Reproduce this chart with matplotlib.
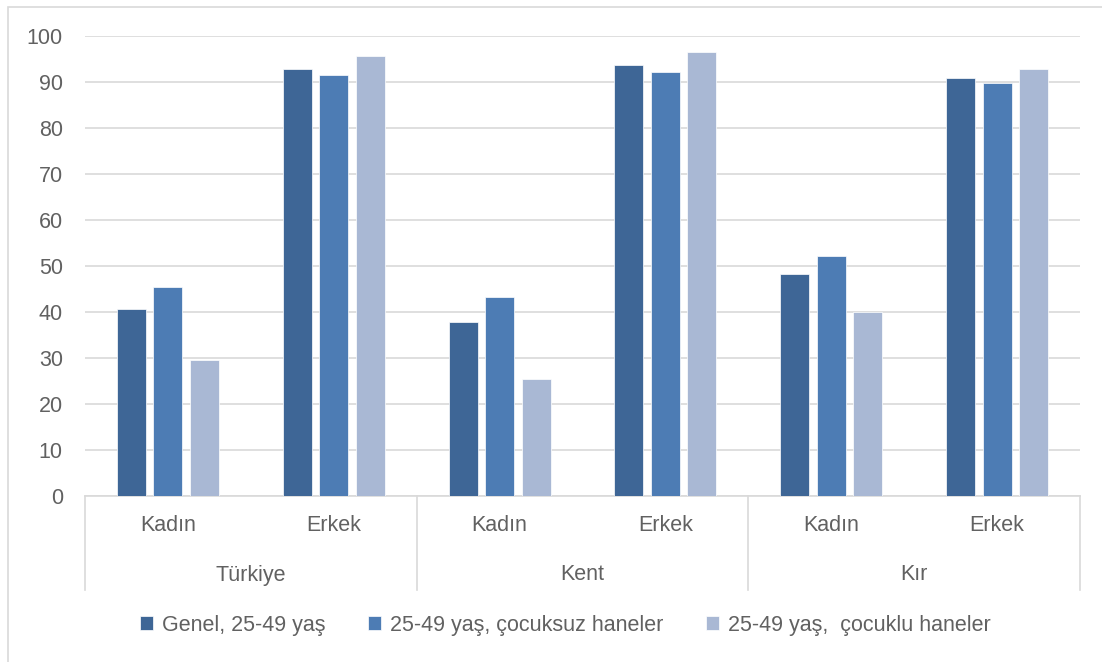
import matplotlib
matplotlib.use('Agg')
import matplotlib.pyplot as plt
import matplotlib.transforms as mtransforms
from matplotlib.patches import Rectangle
import numpy as np

plt.rcParams['font.family'] = ['Liberation Sans', 'DejaVu Sans']

# veriler
gruplar = ['Türkiye', 'Kent', 'Kır']
cinsiyet = ['Kadın', 'Erkek']
seriler = ['Genel, 25-49 yaş', '25-49 yaş, çocuksuz haneler', '25-49 yaş,  çocuklu haneler']
genel = [40.5, 92.9, 37.8, 93.6, 48.2, 90.8]
cocuksuz = [45.4, 91.5, 43.1, 92.1, 52.1, 89.7]
cocuklu = [29.5, 95.6, 25.3, 96.6, 40.0, 92.9]
renkler = ['#3e6696', '#4d7cb4', '#a9b8d4']

W, H = 1102, 662
fs = 15.5
yazi_rengi = '#616161'
fig = plt.figure(figsize=(W / 100, H / 100), dpi=100)
fig.patches.append(Rectangle((8 / W, -0.1), 1.2, 1.1 - 7 / H, transform=fig.transFigure,
                             fill=False, edgecolor='#d9d9d9', linewidth=1.2))

ax = fig.add_axes([85 / W, (H - 495.5) / H, 995 / W, (495.5 - 36) / H])

x = np.arange(len(genel))
genislik = 0.175
adim = 0.22
for k, (degerler, etiket) in enumerate(zip([genel, cocuksuz, cocuklu], seriler)):
    ax.bar(x + (k - 1) * adim, degerler, genislik, color=renkler[k], label=etiket,
           edgecolor='white', linewidth=0.5, zorder=3)

ax.set_xlim(-0.5, 5.5)
ax.set_ylim(0, 100)
ax.set_yticks(range(0, 101, 10))
ax.yaxis.grid(True, color='#d9d9d9', linewidth=1.2, zorder=0)
for s in ['top', 'right', 'left']:
    ax.spines[s].set_visible(False)
ax.spines['bottom'].set_color('#d9d9d9')
ax.spines['bottom'].set_linewidth(1.2)
ax.tick_params(axis='y', length=0, pad=16, labelsize=fs, labelcolor=yazi_rengi)
ax.tick_params(axis='x', length=0, pad=14, labelsize=fs, labelcolor=yazi_rengi)
ax.set_xticks(x)
ax.set_xticklabels(cinsiyet * len(gruplar))

# alt grup etiketleri ve ayırıcılar
trans = mtransforms.blended_transform_factory(ax.transData, fig.transFigure)
for g, ad in enumerate(gruplar):
    ax.text(2 * g + 0.5, 1 - 575 / H, ad, transform=trans, ha='center', va='center',
            fontsize=fs, color=yazi_rengi)
for sinir in [-0.5, 1.5, 3.5, 5.5]:
    ax.plot([sinir, sinir], [1 - 495.5 / H, 1 - 590 / H], transform=trans,
            color='#d9d9d9', linewidth=1.2, clip_on=False)

fig.legend(loc='center', bbox_to_anchor=(0.513, 1 - 625 / H), ncol=3, frameon=False,
           fontsize=fs, labelcolor=yazi_rengi, handlelength=0.6, handleheight=0.6,
           handletextpad=0.4, columnspacing=2.0)

fig.savefig('out.png', dpi=100)
